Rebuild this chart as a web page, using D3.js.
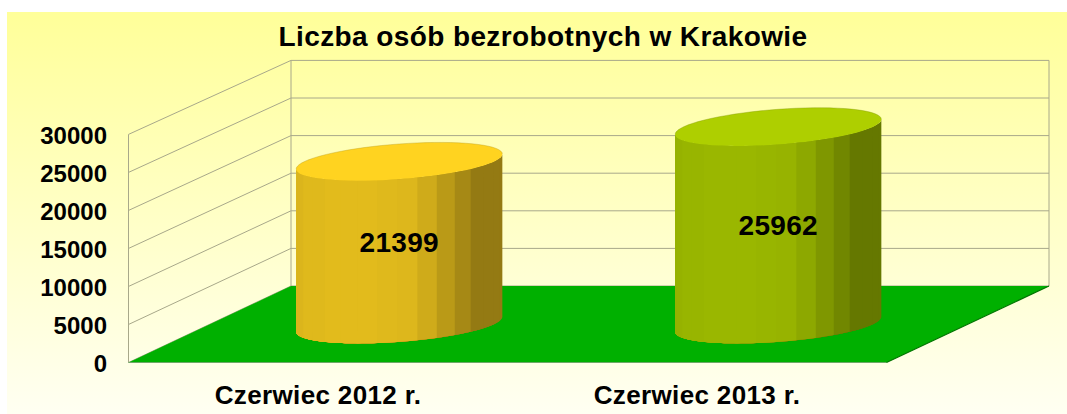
<!DOCTYPE html>
<html>
<head>
<meta charset="utf-8">
<style>
  html, body { margin: 0; padding: 0; background: #fff; }
  svg { display: block; }
  text { font-family: "Liberation Sans", Arial, sans-serif; font-weight: bold; fill: #000; }
</style>
</head>
<body>
<div id="chart"></div>
<script src="https://cdn.jsdelivr.net/npm/d3@7"></script>
<script>
const title = "Liczba osób bezrobotnych w Krakowie";
const categories = ["Czerwiec 2012 r.", "Czerwiec 2013 r."];
const values = [21399, 25962];
const yTicks = [0, 5000, 10000, 15000, 20000, 25000, 30000];
const barColors = ["#ffd320", "#aecf00"];

// brightness of the 16 facets of a cylinder, right edge to left edge
const facetShades = [.58, .58, .58, .58, .65, .73, .81, .865, .875, .885, .885, .885, .875, .875, .86, .86];

const width = 1067, height = 414;

// the floor is a parallelogram, depth goes up and to the right
const floor = { left: 128.5, right: 886.5, front: 362.5, back: 286, dx: 162.5 };

const svg = d3.select("#chart").append("svg")
  .attr("width", width)
  .attr("height", height);

const grad = svg.append("defs").append("linearGradient")
  .attr("id", "bg")
  .attr("x1", 0).attr("y1", 0).attr("x2", 0).attr("y2", 1);
grad.append("stop").attr("offset", 0).attr("stop-color", "#ffff99");
grad.append("stop").attr("offset", 1).attr("stop-color", "#fffff2");

svg.append("rect")
  .attr("x", 7).attr("y", 12)
  .attr("width", width - 7).attr("height", height - 12)
  .attr("fill", "url(#bg)");

const yFront = d3.scaleLinear().domain([0, 30000]).range([floor.front, 134.4]);
const yBack = d3.scaleLinear().domain([0, 30000]).range([floor.back, 60.4]);
const xFront = d3.scaleBand().domain(categories).range([floor.left, floor.right]);
const xBar = d3.scaleBand().domain(categories).range([floor.left, floor.right])
  .paddingInner(.5).paddingOuter(.25);

const backLeft = floor.left + floor.dx, backRight = floor.right + floor.dx;
const gridColor = "#a8a88a";

// walls
const grid = svg.append("g").attr("fill", "none").attr("stroke", gridColor).attr("stroke-width", 1);
grid.selectAll("line.back")
  .data(yTicks)
  .enter()
  .append("line")
  .attr("class", "back")
  .attr("x1", backLeft).attr("x2", backRight)
  .attr("y1", d => yBack(d)).attr("y2", d => yBack(d));
grid.selectAll("line.side")
  .data(yTicks)
  .enter()
  .append("line")
  .attr("class", "side")
  .attr("x1", floor.left).attr("x2", backLeft)
  .attr("y1", d => yFront(d)).attr("y2", d => yBack(d));
grid.append("line")
  .attr("x1", floor.left).attr("x2", floor.left)
  .attr("y1", yFront(0)).attr("y2", yFront(30000));
grid.append("line")
  .attr("x1", backLeft).attr("x2", backLeft)
  .attr("y1", yBack(0)).attr("y2", yBack(30000));
grid.append("line")
  .attr("x1", backRight).attr("x2", backRight)
  .attr("y1", yBack(0)).attr("y2", yBack(30000));

// floor
svg.append("path")
  .attr("d", `M${floor.left},${floor.front}L${backLeft},${floor.back}L${backRight},${floor.back}L${floor.right},${floor.front}Z`)
  .attr("fill", "#00b000");
svg.append("line")
  .attr("x1", floor.left).attr("x2", floor.right)
  .attr("y1", floor.front).attr("y2", floor.front)
  .attr("stroke", "#6fa868").attr("stroke-width", 1);
svg.append("line")
  .attr("x1", floor.right).attr("x2", backRight)
  .attr("y1", floor.front).attr("y2", floor.back)
  .attr("stroke", "#007400").attr("stroke-width", 1.2);

// cylinders
const depthShare = .25;
const depthX = floor.dx * depthShare;
const depthY = (floor.front - floor.back) * depthShare;
const radiusX = xBar.bandwidth() / 2;
const silhouette = Math.hypot(radiusX, depthX);
const phi = Math.atan2(depthX, radiusX);
const baseY = (floor.front + floor.back) / 2;
const barHeight = d => yFront(0) - yFront(d);
const barCx = c => xBar(c) + xBar.bandwidth() / 2 + floor.dx / 2;

// point on the rim, angle 0 is the right silhouette edge, PI the left one, going round the front
const rim = (a, cx, cy) => [cx + silhouette * Math.cos(a), cy + depthY * Math.sin(a - phi)];
const line = d3.line();
const step = Math.PI / facetShades.length;

const bars = svg.selectAll("g.bar")
  .data(categories)
  .enter()
  .append("g")
  .attr("class", "bar");

bars.each(function (c, i) {
  const g = d3.select(this);
  const cx = barCx(c);
  const topY = baseY - barHeight(values[i]);

  // each facet runs on to the left edge and the next one paints over it, so no seams show
  g.selectAll("path.facet")
    .data(facetShades)
    .enter()
    .append("path")
    .attr("class", "facet")
    .attr("d", (s, k) => {
      const start = k ? k * step + .02 : 0; // facet edges sit a little left of the even split
      const angles = d3.range(0, 49).map(m => start + (Math.PI - start) * m / 48);
      const upper = angles.map(a => rim(a, cx, topY));
      const lower = angles.slice().reverse().map(a => rim(a, cx, baseY));
      return line(upper.concat(lower)) + "Z";
    })
    .attr("fill", s => {
      const col = d3.rgb(barColors[i]);
      return d3.rgb(col.r * s, col.g * s, col.b * s).formatHex();
    });

  const whole = d3.range(0, 73).map(n => rim(n * Math.PI / 36, cx, topY));
  g.append("path")
    .attr("d", line(whole) + "Z")
    .attr("fill", barColors[i]);

  const backArc = d3.range(36, 73).map(n => rim(n * Math.PI / 36, cx, topY));
  g.append("path")
    .attr("d", line(backArc))
    .attr("fill", "none")
    .attr("stroke", d3.color(barColors[i]).darker(1).formatHex())
    .attr("stroke-opacity", .5)
    .attr("stroke-width", .7);
});

// y axis sits on the front plane
const yAxis = d3.axisLeft(yFront).tickValues(yTicks).tickSize(0).tickPadding(0).tickFormat(d3.format("d"));
const yG = svg.append("g")
  .attr("transform", `translate(107,1)`)
  .call(yAxis);
yG.select(".domain").remove();
yG.selectAll("text")
  .style("font-family", '"Liberation Sans", Arial, sans-serif')
  .style("font-size", "24px")
  .style("font-weight", "bold");

// category labels
const xAxis = d3.axisBottom(xFront).tickSize(0).tickPadding(0);
const xG = svg.append("g")
  .attr("transform", `translate(0,386)`)
  .call(xAxis);
xG.select(".domain").remove();
xG.selectAll("text")
  .style("font-family", '"Liberation Sans", Arial, sans-serif')
  .style("font-size", "26px")
  .style("font-weight", "bold")
  .style("letter-spacing", ".35px");

// value labels
svg.selectAll("text.value")
  .data(categories)
  .enter()
  .append("text")
  .attr("class", "value")
  .attr("x", c => barCx(c))
  .attr("y", (c, i) => baseY - barHeight(values[i]) / 2)
  .attr("dy", ".33em")
  .attr("text-anchor", "middle")
  .style("font-size", "28px")
  .style("letter-spacing", ".3px")
  .text((c, i) => values[i]);

svg.append("text")
  .attr("x", 543)
  .attr("y", 46)
  .attr("text-anchor", "middle")
  .style("font-size", "28px")
  .style("letter-spacing", ".4px")
  .text(title);
</script>
</body>
</html>
